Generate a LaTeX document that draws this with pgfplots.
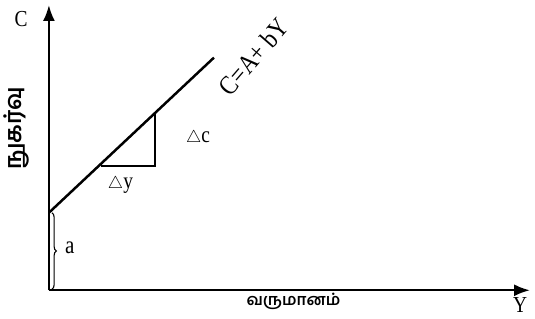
\documentclass[border=0pt]{standalone}
\usepackage{pgfplots}
\pgfplotsset{compat=1.18}
\usepackage{fontspec}
\setmainfont{Liberation Serif}[FakeStretch=0.85]
\newfontfamily\tamil[Script=Tamil]{Hind Madurai}
\usetikzlibrary{arrows.meta,decorations.pathreplacing}

\begin{document}
\begin{tikzpicture}
\begin{axis}[
    x=1pt, y=1pt,
    xmin=0, xmax=484,
    ymin=0, ymax=287,
    axis lines=left,
    axis line style={line width=2.4pt, -{Latex[length=16pt,width=12pt]}},
    ticks=none,
    clip=false,
    font=\fontsize{23}{26}\selectfont,
]
% consumption function
\addplot[black, line width=2.5pt] coordinates {(0,78) (166,234)};
% slope triangle
\addplot[black, line width=2.3pt] coordinates {(52,125) (107,125) (107,178)};

\path (axis cs:-46,-28) rectangle (axis cs:489,292);
\draw[decorate, decoration={brace, amplitude=4.5pt, mirror}, line width=1.1pt]
    (axis cs:3,1) -- (axis cs:3,78);

\node at (axis cs:-28,273) {C};
\node at (axis cs:474,-15) {Y};
\node[font=\fontsize{25}{28}\selectfont] at (axis cs:21,43) {a};
\node at (axis cs:72,106) {$\scriptstyle\triangle$y};
\node at (axis cs:150,153) {$\scriptstyle\triangle$c};
\node[rotate=49, font=\fontsize{27}{30}\selectfont] at (axis cs:206,235) {C=A+ bY};
\node[rotate=90, font=\tamil\fontsize{23}{26}\selectfont\bfseries] at (axis cs:-33,163) {நுகர்வு};
\node[font=\tamil\fontsize{16}{18}\selectfont\bfseries] at (axis cs:246,-11) {வருமானம்};
\end{axis}
\end{tikzpicture}
\end{document}
